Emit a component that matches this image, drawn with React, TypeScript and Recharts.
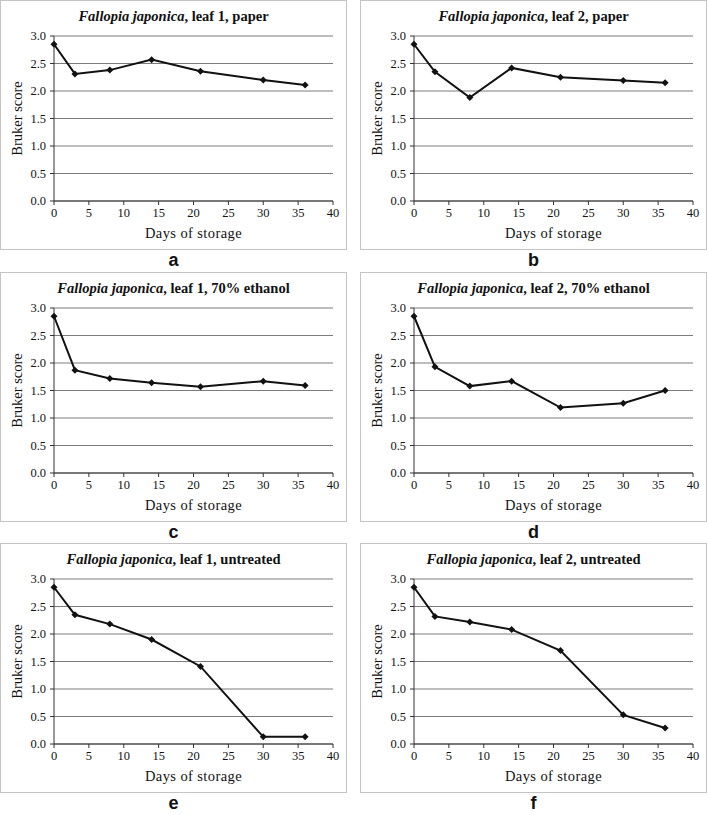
import { LineChart, Line, XAxis, YAxis, CartesianGrid } from 'recharts';

const days = [0, 3, 8, 14, 21, 30, 36];

const leaf1Paper = [2.85, 2.31, 2.38, 2.57, 2.36, 2.2, 2.11];
const leaf2Paper = [2.85, 2.35, 1.88, 2.42, 2.25, 2.19, 2.15];
const leaf1Ethanol = [2.85, 1.87, 1.72, 1.64, 1.57, 1.67, 1.59];
const leaf2Ethanol = [2.85, 1.93, 1.58, 1.67, 1.19, 1.27, 1.5];
const leaf1Untreated = [2.85, 2.35, 2.18, 1.9, 1.41, 0.13, 0.13];
const leaf2Untreated = [2.85, 2.32, 2.22, 2.08, 1.7, 0.53, 0.29];

const xTicks = [0, 5, 10, 15, 20, 25, 30, 35, 40];
const yTicks = [0, 0.5, 1, 1.5, 2, 2.5, 3];

const panels = [
  { letter: 'a', leaf: 'leaf 1', treatment: 'paper', values: leaf1Paper },
  { letter: 'b', leaf: 'leaf 2', treatment: 'paper', values: leaf2Paper },
  { letter: 'c', leaf: 'leaf 1', treatment: '70% ethanol', values: leaf1Ethanol },
  { letter: 'd', leaf: 'leaf 2', treatment: '70% ethanol', values: leaf2Ethanol },
  { letter: 'e', leaf: 'leaf 1', treatment: 'untreated', values: leaf1Untreated },
  { letter: 'f', leaf: 'leaf 2', treatment: 'untreated', values: leaf2Untreated },
];

const serif = '"Liberation Serif", "Times New Roman", serif';
const rowTops = [0, 272, 543];
const colLefts = [0, 360];

function Diamond(props: any) {
  const { cx, cy, index } = props;
  if (cx == null || cy == null) return <g key={index} />;
  const r = 3.5;
  return (
    <polygon
      key={index}
      points={`${cx},${cy - r} ${cx + r},${cy} ${cx},${cy + r} ${cx - r},${cy}`}
      fill="#111"
    />
  );
}

function XTick({ x, y, payload }: any) {
  return (
    <text x={x} y={y} dy="0.78em" textAnchor="middle" fontFamily={serif} fontSize={12.5} fill="#111">
      {payload.value}
    </text>
  );
}

function YTick({ x, y, payload }: any) {
  return (
    <text x={x} y={y} dy="0.35em" textAnchor="end" fontFamily={serif} fontSize={12.5} fill="#111">
      {Number(payload.value).toFixed(1)}
    </text>
  );
}

function Panel({ letter, leaf, treatment, values, left, top }: any) {
  const data = days.map((d, i) => ({ day: d, score: values[i] }));
  return (
    <>
      <div
        style={{
          position: 'absolute', left, top, width: 345, height: 248,
          border: '1px solid #c4c4c4', background: '#fff',
        }}
      >
        <div
          style={{
            position: 'absolute', left: 0, top: 7, width: 345, textAlign: 'center',
            fontFamily: serif, fontWeight: 'bold', fontSize: 14.5, color: '#111', whiteSpace: 'nowrap',
          }}
        >
          <i>Fallopia japonica</i>, {leaf}, {treatment}
        </div>
        <LineChart
          width={345} height={248} data={data}
          margin={{ top: 35, right: 13, bottom: 0, left: 0 }}
        >
          <CartesianGrid vertical={false} stroke="#7c7c7c" strokeWidth={1} />
          <XAxis
            dataKey="day" type="number" domain={[0, 40]} ticks={xTicks} height={48}
            tickSize={4} tickMargin={2} stroke="#333"
            tick={<XTick />}
            label={{ value: 'Days of storage', position: 'insideBottom', offset: 11,
              style: { fill: '#111', fontSize: 14.5, fontFamily: serif, letterSpacing: 0.4 } }}
          />
          <YAxis
            type="number" domain={[0, 3]} ticks={yTicks} width={53}
            tickSize={4} tickMargin={4} stroke="#333"
            tick={<YTick />}
            label={{ value: 'Bruker score', angle: -90, position: 'insideLeft', offset: 16,
              style: { fill: '#111', fontSize: 14.5, fontFamily: serif, textAnchor: 'middle' } }}
          />
          <Line
            type="linear" dataKey="score" stroke="#111" strokeWidth={2}
            dot={Diamond} activeDot={false} isAnimationActive={false}
          />
        </LineChart>
      </div>
      <div
        style={{
          position: 'absolute', left, top: top + 250, width: 347, textAlign: 'center',
          fontFamily: '"Liberation Sans", Arial, sans-serif', fontWeight: 'bold', fontSize: 18,
          lineHeight: '20px', color: '#111',
        }}
      >
        {letter}
      </div>
    </>
  );
}

export default function App() {
  return (
    <div style={{ position: 'absolute', left: 0, top: 0, width: 708, height: 815, background: '#fff', fontFamily: serif }}>
      {panels.map((p, i) => (
        <Panel
          key={p.letter}
          {...p}
          left={colLefts[i % 2]}
          top={rowTops[Math.floor(i / 2)]}
        />
      ))}
    </div>
  );
}
